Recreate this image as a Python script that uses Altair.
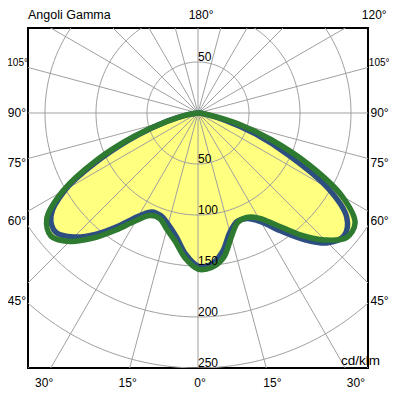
import altair as alt
import pandas as pd
import numpy as np

# ---- data (cd/klm vs gamma angle) ----
gamma = [0, 5, 10, 15, 20, 25, 30, 35, 40, 45, 50, 55, 60, 65, 70, 75, 80, 85, 90]
green_right = [153, 152, 144, 126, 114, 113, 119, 134, 156, 176, 190, 188, 163, 120, 76, 40, 13, 3, 0]
green_left = [153, 143, 128, 118, 110, 111, 122, 140, 160, 178, 188, 181, 153, 110, 66, 32, 11, 2, 0]
blue_right = [150, 149, 138, 121, 113, 114, 123, 141, 162, 180, 187, 178, 147, 99, 60, 28, 8, 1, 0]
blue_left = [150, 139, 123, 113, 107, 107, 117, 135, 155, 172, 182, 176, 150, 104, 62, 31, 11, 2, 0]

circle_radii = [50, 100, 150, 200, 250, 300]
circle_labels = [50, 100, 150, 200, 250]
spoke_step = 15
side_labels = [105, 90, 75, 60, 45]
bottom_labels = [-30, -15, 0, 15, 30]
top_labels = [180, 120]

YELLOW = "#FFFF80"
BLUE = "#2C4E80"
GREEN = "#2E7A30"
GRID = "#A0A0A0"
FONT = "Liberation Sans"
NARROW = "Liberation Sans Narrow, Liberation Sans"

XMAX = 500.0 / 3.0
YMIN, YMAX = -250.0, 250.0 / 3.0
xs = alt.Scale(domain=[-XMAX, XMAX], nice=False, zero=False)
ys = alt.Scale(domain=[YMIN, YMAX], nice=False, zero=False)


def curve_frame(name, left, right):
    rows = []
    k = 0
    for g, r in zip(gamma[::-1], left[::-1]):
        if g == 0:
            continue
        rows.append({"curve": name, "g": g, "r": r, "side": -1, "k": k})
        k += 1
    for g, r in zip(gamma, right):
        rows.append({"curve": name, "g": g, "r": r, "side": 1, "k": k})
        k += 1
    return rows


curves = pd.DataFrame(curve_frame("blue", blue_left, blue_right) + curve_frame("green", green_left, green_right))

base_curve = alt.Chart(curves).transform_calculate(
    x="datum.side * datum.r * sin(datum.g * PI / 180)",
    y="-datum.r * cos(datum.g * PI / 180)",
)
enc = dict(
    x=alt.X("x:Q", scale=xs, axis=None),
    y=alt.Y("y:Q", scale=ys, axis=None),
    order=alt.Order("k:Q"),
)

fill_layers = [
    base_curve.transform_filter(alt.datum.curve == c)
    .mark_line(fill=YELLOW, stroke=YELLOW, strokeWidth=1, interpolate="catmull-rom")
    .encode(**enc)
    for c in ["blue", "green"]
]

line_layers = [
    base_curve.transform_filter(alt.datum.curve == c)
    .mark_line(stroke=col, strokeWidth=5.5, interpolate="catmull-rom", strokeJoin="round")
    .encode(**enc)
    for c, col in [("blue", BLUE), ("green", GREEN)]
]

# ---- grid circles ----
t = list(range(0, 362, 2))
circ = pd.DataFrame([{"rad": r, "t": a} for r in circle_radii for a in t])
circles = (
    alt.Chart(circ)
    .transform_calculate(
        x="datum.rad * sin(datum.t * PI / 180)",
        y="datum.rad * cos(datum.t * PI / 180)",
    )
    .mark_line(stroke=GRID, strokeWidth=1, clip=True)
    .encode(
        x=alt.X("x:Q", scale=xs, axis=None),
        y=alt.Y("y:Q", scale=ys, axis=None),
        detail="rad:N",
        order="t:Q",
    )
)

# ---- spokes ----
sp = pd.DataFrame({"a": list(range(0, 360, spoke_step))})
spokes = (
    alt.Chart(sp)
    .transform_calculate(
        x0="0", y0="0",
        x2="400 * sin(datum.a * PI / 180)",
        y2="-400 * cos(datum.a * PI / 180)",
    )
    .mark_rule(stroke=GRID, strokeWidth=1, clip=True)
    .encode(
        x=alt.X("x0:Q", scale=xs, axis=None),
        y=alt.Y("y0:Q", scale=ys, axis=None),
        x2="x2:Q",
        y2="y2:Q",
    )
)

# ---- radial value labels ----
cl = pd.DataFrame(
    [{"txt": str(v), "x": 0, "y": -v} for v in circle_labels] + [{"txt": "50", "x": 0, "y": 50}]
)
circle_text = (
    alt.Chart(cl)
    .mark_text(align="left", baseline="alphabetic", font=FONT, fontSize=12, color="black", dy=-1)
    .encode(x=alt.X("x:Q", scale=xs, axis=None), y=alt.Y("y:Q", scale=ys, axis=None), text="txt:N")
)

# ---- angle labels ----
XL = 184.0
YB = 264.7
YT = 92.0  # alphabetic baseline of the top row
rows = []
for a in side_labels:
    yy = XL * np.cos(np.radians(180 - a)) / np.sin(np.radians(a))
    big = a >= 100
    rows.append({"txt": f"{a}°", "x": (XMAX + 0.8) if big else 169.1, "y": yy, "al": "left", "sz": 10 if big else 12})
    rows.append({"txt": f"{a}°", "x": -XMAX if big else -168.6, "y": yy, "al": "right", "sz": 10 if big else 12})
for a in bottom_labels:
    rows.append({"txt": f"{abs(a)}°", "x": YB * np.tan(np.radians(a)) + 2, "y": -YB, "al": "center", "sz": 12})
ang = pd.DataFrame(rows)

angle_text = []
for al in ["left", "right", "center"]:
    for sz in [10, 12]:
        sub = ang[(ang["al"] == al) & (ang["sz"] == sz)]
        if len(sub) == 0:
            continue
        angle_text.append(
            alt.Chart(sub)
            .mark_text(align=al, baseline="middle", font=NARROW if sz == 10 else FONT, fontSize=sz, color="black")
            .encode(x=alt.X("x:Q", scale=xs, axis=None), y=alt.Y("y:Q", scale=ys, axis=None), text="txt:N")
        )

top_df = pd.DataFrame(
    [{"txt": f"{a}°", "x": 98.0 * np.tan(np.radians(180 - a)) + 3, "y": YT} for a in top_labels]
)
top_text = (
    alt.Chart(top_df)
    .mark_text(align="center", baseline="alphabetic", font=FONT, fontSize=12, color="black")
    .encode(x=alt.X("x:Q", scale=xs, axis=None), y=alt.Y("y:Q", scale=ys, axis=None), text="txt:N")
)

title_df = pd.DataFrame([{"txt": "Angoli Gamma", "x": -XMAX, "y": YT}])
title_text = (
    alt.Chart(title_df)
    .mark_text(align="left", baseline="alphabetic", font=FONT, fontSize=12.5, color="black")
    .encode(x=alt.X("x:Q", scale=xs, axis=None), y=alt.Y("y:Q", scale=ys, axis=None), text="txt:N")
)
unit_df = pd.DataFrame([{"txt": "cd/klm", "x": 178.4, "y": -247.0}])
unit_text = (
    alt.Chart(unit_df)
    .mark_text(align="right", baseline="alphabetic", font=FONT, fontSize=13.5, color="black")
    .encode(x=alt.X("x:Q", scale=xs, axis=None), y=alt.Y("y:Q", scale=ys, axis=None), text="txt:N")
)

chart = (
    alt.layer(*fill_layers, circles, spokes, *line_layers, circle_text, *angle_text, top_text, title_text, unit_text)
    .properties(
        width=340,
        height=340,
        autosize=alt.AutoSizeParams(type="none"),
        padding={"left": 20, "top": 20, "right": 21, "bottom": 21},
    )
    .configure_view(stroke="black", strokeWidth=2)
)

chart.save("out.html", embed_options={"renderer": "svg", "actions": False})
